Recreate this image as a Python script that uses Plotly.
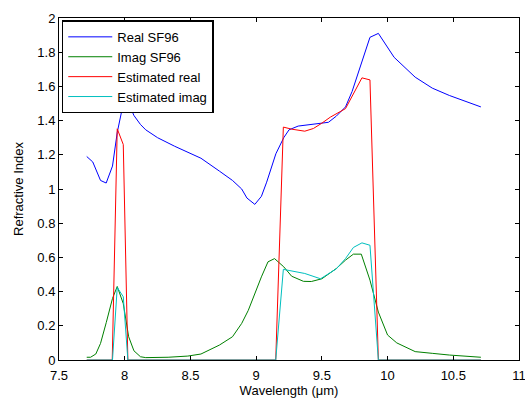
import plotly.graph_objects as go

# Real SF96
wl_real = [7.711, 7.757, 7.816, 7.859, 7.907, 7.943, 7.989, 8.02, 8.07, 8.12, 8.16, 8.25, 8.38, 8.48,
           8.58, 8.72, 8.82, 8.89, 8.93, 8.99, 9.04, 9.08, 9.15, 9.21, 9.25, 9.32, 9.42, 9.55, 9.61,
           9.68, 9.73, 9.80, 9.866, 9.93, 10.05, 10.21, 10.34, 10.47, 10.71]
n_real = [1.19, 1.158, 1.05, 1.035, 1.134, 1.33, 1.50, 1.52, 1.43, 1.377, 1.346, 1.30, 1.25, 1.216,
          1.18, 1.105, 1.05, 1.00, 0.947, 0.91, 0.957, 1.04, 1.206, 1.30, 1.346, 1.368, 1.377, 1.39,
          1.426, 1.48, 1.57, 1.73, 1.887, 1.91, 1.77, 1.654, 1.59, 1.547, 1.48]

# Imag SF96
wl_imag = [7.711, 7.74, 7.78, 7.816, 7.86, 7.907, 7.943, 7.989, 8.03, 8.07, 8.12, 8.16, 8.33, 8.48,
           8.58, 8.72, 8.82, 8.89, 8.94, 8.99, 9.04, 9.09, 9.14, 9.21, 9.27, 9.36, 9.42, 9.50, 9.61,
           9.68, 9.74, 9.80, 9.866, 9.93, 10.00, 10.07, 10.21, 10.34, 10.47, 10.71]
k_imag = [0.016, 0.016, 0.035, 0.097, 0.22, 0.36, 0.43, 0.33, 0.136, 0.054, 0.019, 0.014, 0.016, 0.023,
          0.035, 0.087, 0.136, 0.214, 0.29, 0.39, 0.486, 0.574, 0.593, 0.545, 0.49, 0.46, 0.459, 0.475,
          0.535, 0.584, 0.619, 0.619, 0.467, 0.28, 0.146, 0.10, 0.049, 0.039, 0.029, 0.016]

# Estimated real
wl_est_real = [7.711, 7.905, 7.943, 7.989, 8.024, 9.149, 9.207, 9.27, 9.37, 9.436, 9.50, 9.564,
               9.68, 9.74, 9.805, 9.866, 9.93, 10.71]
n_est = [0, 0, 1.352, 1.26, 0, 0, 1.362, 1.35, 1.338, 1.354, 1.385, 1.42,
         1.47, 1.56, 1.65, 1.638, 0, 0]

# Estimated imag
wl_est_imag = [7.711, 7.907, 7.943, 7.989, 8.024, 9.149, 9.207, 9.27, 9.37, 9.49, 9.61,
               9.68, 9.74, 9.805, 9.866, 9.93, 10.71]
k_est = [0, 0, 0.424, 0.37, 0, 0, 0.53, 0.52, 0.506, 0.475, 0.533,
         0.593, 0.658, 0.685, 0.671, 0, 0]

x_ticks = [7.5, 8, 8.5, 9, 9.5, 10, 10.5, 11]
y_ticks = [0, 0.2, 0.4, 0.6, 0.8, 1, 1.2, 1.4, 1.6, 1.8, 2]

FONT = "Arial, Liberation Sans, Helvetica, sans-serif"

fig = go.Figure()
fig.add_trace(go.Scatter(x=wl_real, y=n_real, mode="lines", name="Real SF96",
                         line=dict(color="#0000ff", width=1)))
fig.add_trace(go.Scatter(x=wl_imag, y=k_imag, mode="lines", name="Imag SF96",
                         line=dict(color="#008000", width=1)))
fig.add_trace(go.Scatter(x=wl_est_real, y=n_est, mode="lines", name="Estimated real",
                         line=dict(color="#ff0000", width=1)))
fig.add_trace(go.Scatter(x=wl_est_imag, y=k_est, mode="lines", name="Estimated imag",
                         line=dict(color="#00bfbf", width=1)))

axis_common = dict(showgrid=False, zeroline=False, showline=True, linecolor="black", linewidth=1,
                   mirror="ticks", ticks="inside", ticklen=4, tickcolor="black", automargin=False,
                   ticklabeloverflow="allow",
                   tickfont=dict(family=FONT, size=13, color="black"))

fig.update_layout(
    width=525, height=399,
    margin=dict(l=59, r=6, t=18, b=39),
    paper_bgcolor="white", plot_bgcolor="white",
    font=dict(family=FONT, size=13, color="black"),
    xaxis=dict(range=[7.5, 11], tickvals=x_ticks, ticktext=[f"{v:g}" for v in x_ticks],
               ticklabelstandoff=3,
               title=dict(text="Wavelength (μm)", font=dict(size=13), standoff=0), **axis_common),
    yaxis=dict(range=[0, 2], tickvals=y_ticks, ticktext=[f"{v:g}" for v in y_ticks],
               title=dict(text="Refractive Index", font=dict(size=13), standoff=10), **axis_common),
    legend=dict(x=0.006, y=0.993, xanchor="left", yanchor="top", bgcolor="white",
                bordercolor="black", borderwidth=1.5, font=dict(family=FONT, size=13),
                itemwidth=44, tracegroupgap=0),
    showlegend=True,
)

fig.write_html("out.html", config={"displayModeBar": False},
               post_script="document.body.style.margin='0';document.body.style.padding='0';")
